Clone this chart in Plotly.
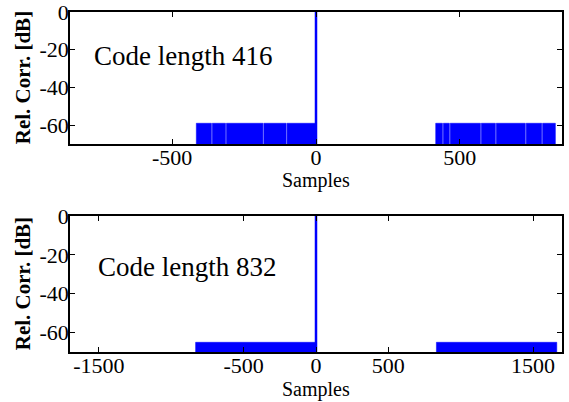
import plotly.graph_objects as go

# ---------------- data ----------------
# Panel 1: code length 416
code_len_1 = 416
lag_range_1 = [-855, 855]
sidelobe_db_1 = -59
bands_1 = [(-416, 0), (416, 832)]            # lag spans containing sidelobes
dips_1 = [-362, -313, -183, -102, 441, 465, 573, 625, 729, 786]  # lags of deep nulls
xticks_1 = [-500, 0, 500]

# Panel 2: code length 832
code_len_2 = 832
lag_range_2 = [-1700, 1700]
sidelobe_db_2 = -65
bands_2 = [(-832, 0), (832, 1664)]
dips_2 = []
xticks_2 = [-1500, -500, 0, 500, 1500]

peak_lag = 0
peak_db = 0
floor_db = -80          # value of the nulls (below the visible range)
y_range = [-70, 0]
yticks = [0, -20, -40, -60]

BLUE = "#0000ff"
FONT = "Liberation Serif"


def band_polygons(bands, dips, level, floor, dip_w=3):
    xs, ys = [], []
    for a, b in bands:
        edges = [a]
        for d in sorted(dips):
            if a < d < b:
                edges += [d - dip_w / 2, d + dip_w / 2]
        edges.append(b)
        for i in range(0, len(edges), 2):
            x0, x1 = edges[i], edges[i + 1]
            xs += [x0, x1, x1, x0, x0, None]
            ys += [floor, floor, level, level, floor, None]
    return xs, ys


fig = go.Figure()

panels = [
    (code_len_1, lag_range_1, sidelobe_db_1, bands_1, dips_1, xticks_1, "x", "y", [0.6118, 1.0]),
    (code_len_2, lag_range_2, sidelobe_db_2, bands_2, dips_2, xticks_2, "x2", "y2", [0.0, 0.4]),
]

for idx, (clen, xr, lvl, bands, dips, xt, xa, ya, dom) in enumerate(panels):
    bx, by = band_polygons(bands, dips, lvl, floor_db)
    fig.add_trace(go.Scatter(x=bx, y=by, xaxis=xa, yaxis=ya, mode="lines",
                             fill="toself", fillcolor=BLUE,
                             line=dict(color=BLUE, width=0.5),
                             showlegend=False, hoverinfo="skip"))
    fig.add_trace(go.Scatter(x=[peak_lag, peak_lag], y=[floor_db, peak_db],
                             xaxis=xa, yaxis=ya, mode="lines",
                             line=dict(color=BLUE, width=2.5),
                             showlegend=False, hoverinfo="skip"))
    sfx = "" if idx == 0 else "2"
    axis_common = dict(showline=True, linecolor="black", linewidth=1.5, mirror="ticks",
                       ticks="inside", ticklen=5, tickcolor="black", tickwidth=1,
                       showgrid=False, zeroline=False, automargin=False,
                       ticklabeloverflow="allow",
                       tickfont=dict(family=FONT, size=22, color="black"))
    fig.update_layout(**{
        "xaxis" + sfx: dict(axis_common, range=xr, tickvals=xt,
                            ticktext=[str(v) for v in xt], ticklabelstandoff=-7,
                            anchor="y" + sfx, domain=[0, 1]),
        "yaxis" + sfx: dict(axis_common, range=y_range, tickvals=yticks,
                            ticktext=[str(v) for v in yticks], ticklabelstandoff=-5,
                            anchor="x" + sfx, domain=dom),
    })
    fig.add_annotation(text=f"Code length {clen}", xref=f"{xa} domain", yref=f"{ya} domain",
                       x=0.045 if idx == 0 else 0.053, y=0.67 if idx == 0 else 0.625,
                       xanchor="left", yanchor="middle", showarrow=False,
                       font=dict(family=FONT, size=27, color="black"))
    fig.add_annotation(text="Samples", xref=f"{xa} domain", yref=f"{ya} domain",
                       x=0.5, y=0, yshift=-37, xanchor="center", yanchor="middle",
                       showarrow=False, font=dict(family=FONT, size=20, color="black"))
    fig.add_annotation(text="<b>Rel. Corr. [dB]</b>", xref=f"{xa} domain", yref=f"{ya} domain",
                       x=-0.095, y=0.5, xanchor="center", yanchor="middle", textangle=-90,
                       showarrow=False, font=dict(family=FONT, size=21, color="black"))

fig.update_layout(width=569, height=402, margin=dict(l=70, r=7, t=12, b=50),
                  paper_bgcolor="white", plot_bgcolor="white")

fig.write_html("out.html")
